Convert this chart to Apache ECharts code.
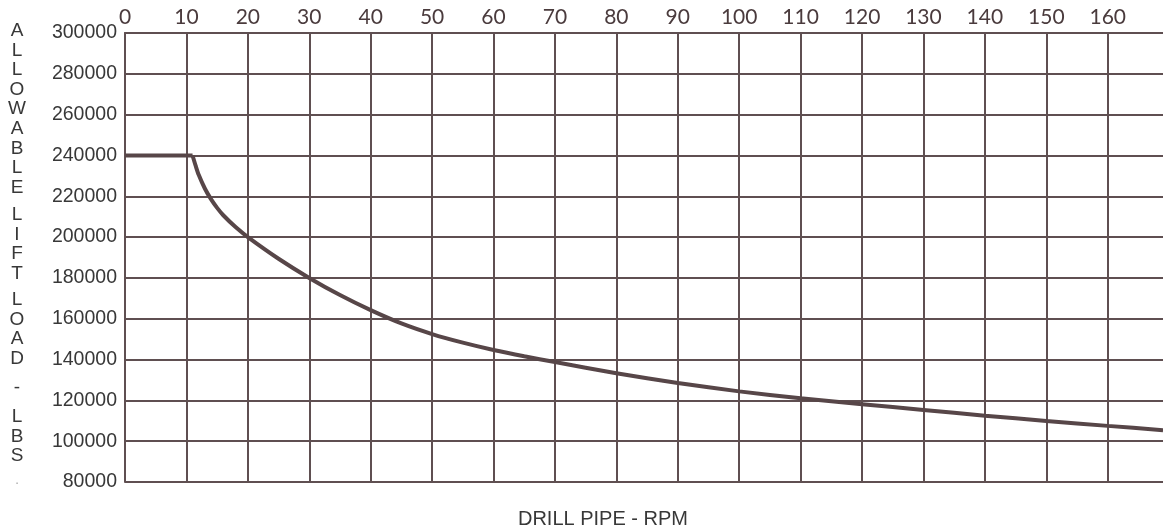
<!DOCTYPE html>
<html>
<head>
<meta charset="utf-8">
<script src="https://cdn.jsdelivr.net/npm/echarts@6/dist/echarts.min.js"></script>
<style>
html,body{margin:0;padding:0;background:#fff;}
#c{width:1163px;height:529px;}
</style>
</head>
<body>
<div id="c"></div>
<script>
// Data
var rpm  = [0, 11, 11.5, 12, 13, 14, 15, 16, 18, 20, 25, 30, 35, 40, 45, 50, 55, 60, 65, 70, 80, 90, 100, 110, 120, 130, 140, 150, 160, 169];
var load = [240000, 240000, 235000, 230500, 223800, 218600, 214300, 210700, 204900, 200000, 189400, 180000, 171600, 164200, 157700, 152500, 148300, 144700, 141600, 138800, 133300, 128500, 124400, 121000, 118100, 115300, 112500, 109900, 107500, 105400];
var xTicks = [0, 10, 20, 30, 40, 50, 60, 70, 80, 90, 100, 110, 120, 130, 140, 150, 160];
var yTicks = [80000, 100000, 120000, 140000, 160000, 180000, 200000, 220000, 240000, 260000, 280000, 300000];
var yTitleWords = ['ALLOWABLE', 'LIFT', 'LOAD', '-', 'LBS'];
var xTitle = 'DRILL PIPE - RPM';

var gridColor = '#5f4f51';
var textColor = '#383838';

var points = rpm.map(function (r, i) { return [r, load[i]]; });
var flatPart = points.slice(0, 2);
var curvePart = points.slice(1);

var wordTops = [21, 205, 290, 378, 407];
var graphics = yTitleWords.map(function (w, i) {
  return {
    type: 'text',
    x: 17,
    y: wordTops[i],
    style: {
      text: w.split('').join('\n'),
      fontFamily: 'Liberation Sans, Arial, sans-serif',
      fontSize: 19,
      lineHeight: 19.6,
      fill: textColor,
      align: 'center',
      verticalAlign: 'top'
    }
  };
});
graphics.push({
  type: 'text', x: 17, y: 472,
  style: { text: '.', align: 'center', verticalAlign: 'top', fontFamily: 'Liberation Sans, Arial, sans-serif', fontSize: 15, fill: '#b0b0b0' }
});

var chart = echarts.init(document.getElementById('c'));
chart.setOption({
  animation: false,
  backgroundColor: '#ffffff',
  grid: { left: 125, top: 33, right: 0, bottom: 47, containLabel: false },
  graphic: graphics,
  title: {
    text: xTitle,
    left: 598, top: 504, textAlign: 'center',
    textStyle: { fontFamily: 'Liberation Sans, Arial, sans-serif', fontSize: 20, fontWeight: 'normal', color: textColor }
  },
  xAxis: {
    type: 'value',
    position: 'top',
    min: xTicks[0],
    max: 169,
    interval: 10,
    axisLine: { show: true, lineStyle: { color: gridColor, width: 2 } },
    axisTick: { show: false },
    axisLabel: {
      show: true,
      margin: 5,
      showMaxLabel: false,
      color: '#4a3b3d',
      fontFamily: 'Lato, sans-serif',
      fontSize: 21,
      formatter: function (v) { return xTicks.indexOf(v) >= 0 ? String(v) : ''; }
    },
    splitLine: { show: true, showMaxLine: false, lineStyle: { color: gridColor, width: 2 } }
  },
  yAxis: {
    type: 'value',
    min: yTicks[0],
    max: yTicks[yTicks.length - 1],
    interval: 20000,
    axisLine: { show: true, lineStyle: { color: gridColor, width: 2 } },
    axisTick: { show: false },
    axisLabel: {
      margin: 8,
      color: textColor,
      fontFamily: 'Liberation Sans, Arial, sans-serif',
      fontSize: 19.5,
      formatter: function (v) { return String(v); }
    },
    splitLine: { show: true, lineStyle: { color: gridColor, width: 2 } }
  },
  series: [{
    type: 'line',
    data: flatPart,
    showSymbol: false,
    lineStyle: { color: '#574648', width: 4 },
    z: 5
  }, {
    type: 'line',
    data: curvePart,
    smooth: 0.25,
    showSymbol: false,
    lineStyle: { color: '#574648', width: 4 },
    z: 5
  }]
});
</script>
</body>
</html>
